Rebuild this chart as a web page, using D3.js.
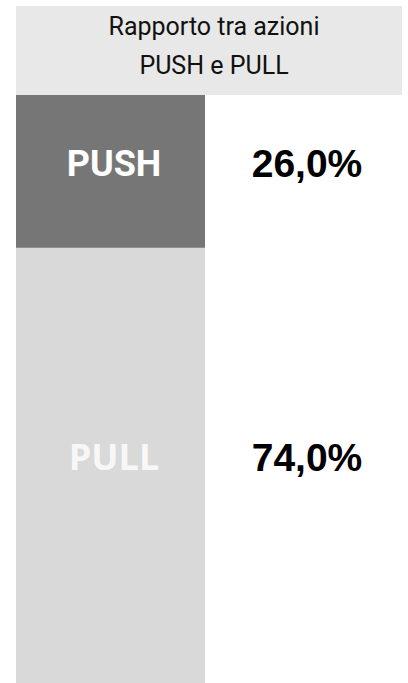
<!DOCTYPE html>
<html>
<head>
<meta charset="utf-8">
<script src="https://cdn.jsdelivr.net/npm/d3@7"></script>
<style>
  body { margin: 0; background: #fff; }
</style>
</head>
<body>
<div class="chart"></div>
<script>
var svgWidth = 408;
var svgHeight = 683;

// chart data
var titleLines = ["Rapporto tra azioni", "PUSH e PULL"];
var categories = ["PUSH", "PULL"];
var values = [26.0, 74.0];

var colors = ["#767676", "#d9d9d9"];
var labelColors = ["#ffffff", "#f7f7f7"];

var header = { left: 16, right: 402, top: 6, bottom: 95 };
var bar = { left: 16, right: 205 };

var svg = d3.select(".chart")
  .append("svg")
  .attr("width", svgWidth)
  .attr("height", svgHeight);

// header box with title
svg.append("rect")
  .attr("x", header.left)
  .attr("y", header.top)
  .attr("width", header.right - header.left)
  .attr("height", header.bottom - header.top)
  .attr("fill", "#e8e8e8");

svg.selectAll(".title")
  .data(titleLines)
  .enter()
  .append("text")
  .attr("class", "title")
  .attr("x", 214)
  .attr("y", (d, i) => 35 + i * 39)
  .attr("text-anchor", "middle")
  .attr("font-family", "Roboto, sans-serif")
  .attr("font-size", 25)
  .attr("fill", "#111")
  .text(d => d);

// stacked segments
var stacked = [];
var acc = 0;
values.forEach(function(v, i) {
  stacked.push({ name: categories[i], value: v, y0: acc, y1: acc + v, i: i });
  acc += v;
});

var yScale = d3.scaleLinear()
  .domain([0, d3.sum(values)])
  .range([header.bottom, svgHeight]);

var itLocale = d3.formatLocale({ decimal: ",", thousands: ".", grouping: [3], currency: ["", "€"] });
var fmt = itLocale.format(".1f");

svg.selectAll(".seg")
  .data(stacked)
  .enter()
  .append("rect")
  .attr("class", "seg")
  .attr("x", bar.left)
  .attr("width", bar.right - bar.left)
  .attr("y", d => yScale(d.y0))
  .attr("height", d => yScale(d.y1) - yScale(d.y0))
  .attr("fill", d => colors[d.i]);

function labelY(d) {
  return (yScale(d.y0) + yScale(d.y1)) / 2 - 8;
}

svg.selectAll(".cat")
  .data(stacked)
  .enter()
  .append("text")
  .attr("class", "cat")
  .attr("x", 114)
  .attr("y", labelY)
  .attr("dy", "0.36em")
  .attr("text-anchor", "middle")
  .attr("font-family", d => d.i === 0 ? "Roboto, sans-serif" : "'Open Sans', sans-serif")
  .attr("font-weight", "bold")
  .attr("font-size", 36)
  .attr("fill", d => labelColors[d.i])
  .text(d => d.name);

svg.selectAll(".val")
  .data(stacked)
  .enter()
  .append("text")
  .attr("class", "val")
  .attr("x", 307)
  .attr("y", labelY)
  .attr("dy", "0.36em")
  .attr("text-anchor", "middle")
  .attr("font-family", "'Liberation Sans', Arial, sans-serif")
  .attr("font-weight", "bold")
  .attr("font-size", 39)
  .attr("fill", "#000")
  .text(d => fmt(d.value) + "%");
</script>
</body>
</html>
